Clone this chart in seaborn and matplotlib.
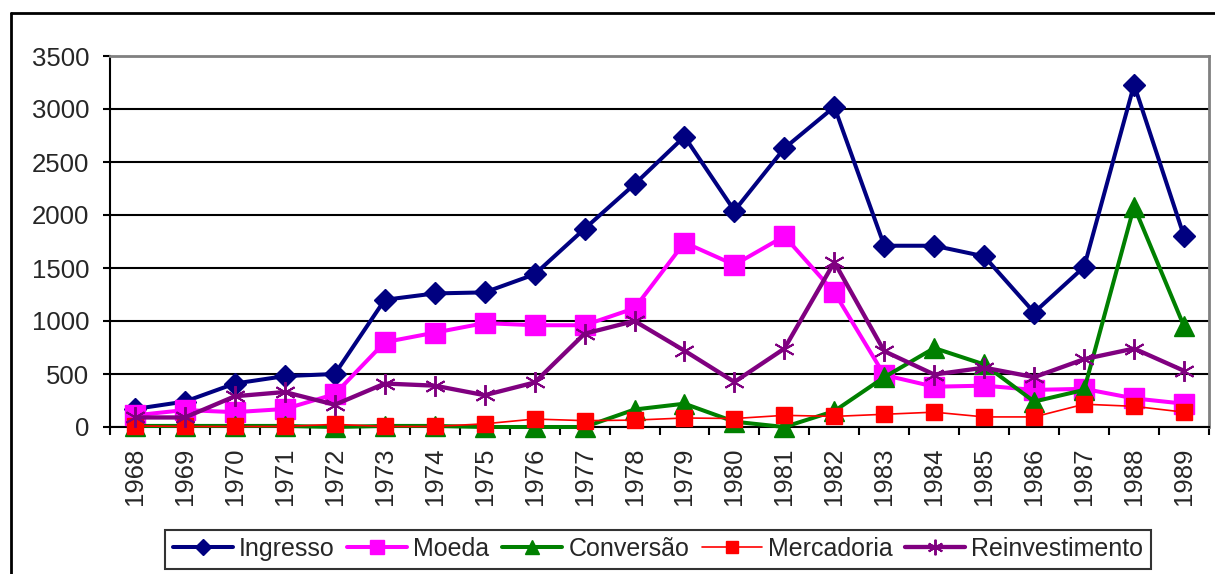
import matplotlib
matplotlib.use("Agg")
import matplotlib.pyplot as plt
from matplotlib.lines import Line2D
from matplotlib.ticker import FixedLocator
import seaborn as sns
import pandas as pd

# Data
years = [str(y) for y in range(1968, 1990)]
ingresso = [170, 240, 410, 480, 500, 1200, 1260, 1270, 1440, 1870, 2290,
            2740, 2040, 2630, 3020, 1710, 1710, 1610, 1080, 1510, 3230, 1800]
moeda = [110, 160, 140, 170, 310, 800, 890, 980, 960, 960, 1120,
         1740, 1530, 1800, 1270, 490, 380, 390, 350, 360, 270, 220]
conversao = [10, 10, 10, 10, 0, 10, 10, 0, 0, 0, 165,
             220, 50, 0, 150, 470, 745, 590, 240, 350, 2080, 950]
mercadoria = [10, 5, 5, 5, 25, 5, 5, 30, 75, 60, 65,
              85, 80, 110, 100, 120, 140, 95, 95, 215, 195, 140]
reinvestimento = [90, 90, 290, 330, 210, 410, 390, 300, 420, 880, 1000,
                  720, 425, 740, 1555, 715, 495, 560, 470, 640, 740, 530]

series = ["Ingresso", "Moeda", "Conversão", "Mercadoria", "Reinvestimento"]
colors = ["#000080", "#FF00FF", "#008000", "#FF0000", "#800080"]
markers = ["D", "s", "^", "s", (6, 2, 0)]
msizes = [11.5, 14, 14, 12, 15]
medges = [1, 1, 1, 1, 1.4]
lwidths = [2.9, 2.9, 2.9, 1.2, 3.1]

df = pd.DataFrame({"pos": range(len(years)), "Ingresso": ingresso, "Moeda": moeda,
                   "Conversão": conversao, "Mercadoria": mercadoria,
                   "Reinvestimento": reinvestimento})

sns.set_style("white")
plt.rcParams["font.family"] = ["Liberation Sans", "DejaVu Sans"]

fig = plt.figure(figsize=(12.15, 5.74), dpi=100)
ax = fig.add_axes([110 / 1215, 1 - 427 / 574, 1099 / 1215, 371 / 574])

for i, name in enumerate(series):
    sns.lineplot(data=df, x="pos", y=name, ax=ax, color=colors[i], lw=lwidths[i],
                 marker=markers[i], markersize=msizes[i], markeredgewidth=medges[i],
                 markeredgecolor=colors[i], clip_on=False, zorder=3 + i, label=name,
                 legend=False)

ax.set_xlim(-0.5, len(years) - 0.5)
ax.set_ylim(0, 3500)
ax.set_yticks(range(0, 3501, 500))
ax.set_xticks(range(len(years)))
ax.set_xticklabels(years, rotation=90, va="top", ha="center")
ax.xaxis.set_minor_locator(FixedLocator([x - 0.5 for x in range(len(years) + 1)]))
ax.xaxis.set_ticks_position("bottom")
ax.yaxis.set_ticks_position("left")
ax.tick_params(axis="x", which="major", length=0, pad=15, labelsize=18.5)
ax.tick_params(axis="x", which="minor", length=6, width=1.5, color="black")
ax.tick_params(axis="y", length=5, width=1.5, color="black", pad=10, labelsize=18.5)
ax.set_xlabel("")
ax.set_ylabel("")

ax.grid(axis="y", color="black", lw=1.5)
ax.set_axisbelow(True)
for side in ["top", "right"]:
    ax.spines[side].set_color("#808080")
    ax.spines[side].set_linewidth(2)
    ax.spines[side].set_zorder(2.5)
for side in ["left", "bottom"]:
    ax.spines[side].set_color("black")
    ax.spines[side].set_linewidth(1.5)
    ax.spines[side].set_zorder(2.5)

handles = [Line2D([], [], color=colors[i], lw=lwidths[i], marker=markers[i],
                  markersize=msizes[i] * 0.75, markeredgewidth=medges[i],
                  markeredgecolor=colors[i]) for i in range(len(series))]
leg = fig.legend(handles, series, loc="center", bbox_to_anchor=(658 / 1215, 1 - 549 / 574),
                 ncol=5, fontsize=18, frameon=True, fancybox=False, handlelength=2.4,
                 handletextpad=0.25, columnspacing=0.5, borderpad=0.3)
leg.get_frame().set_edgecolor("black")
leg.get_frame().set_linewidth(1.5)

# chart area border (top and left edges visible)
fig.add_artist(Line2D([11 / 1215, 1], [1 - 13 / 574, 1 - 13 / 574], color="black", lw=2,
                      transform=fig.transFigure))
fig.add_artist(Line2D([11 / 1215, 11 / 1215], [0, 1 - 13 / 574], color="black", lw=2,
                      transform=fig.transFigure))

fig.savefig("out.png", dpi=100)
